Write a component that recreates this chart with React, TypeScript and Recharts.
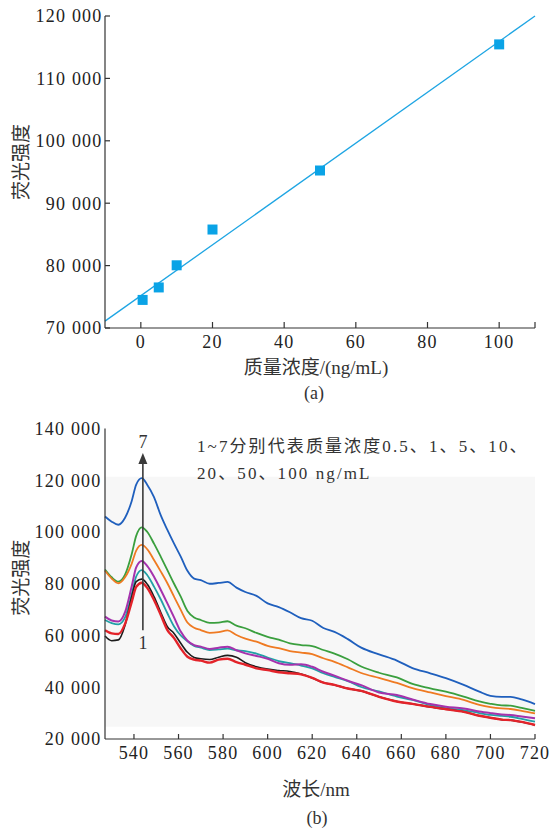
import React from 'react'
import {
  ComposedChart,
  LineChart,
  Line,
  Scatter,
  XAxis,
  YAxis,
  ReferenceArea,
  ReferenceLine,
} from 'recharts'

// (a) calibration points and fitted line
const concentrations = [0.5, 5, 10, 20, 50, 100]
const intensities = [74500, 76500, 80050, 85780, 95240, 115450]
const fitConc = [-10, 110]
const fitIntensity = [71100, 120000]
const aXTicks = [0, 20, 40, 60, 80, 100, 110]
const aYTicks = [70000, 80000, 90000, 100000, 110000, 120000]

// (b) emission spectra, 1..7 = 0.5, 1, 5, 10, 20, 50, 100 ng/mL
const wavelengths = [
  527, 530, 533, 536, 539, 541, 543.5, 546, 549, 552, 555, 558, 561, 564, 567, 570, 574, 578, 582, 586, 590, 595,
  600, 605, 610, 615, 620, 625, 630, 636, 642, 650, 658, 665, 673, 680, 688, 695, 700, 705, 709, 714, 720,
]
const s1 = [
  62000, 60800, 60600, 64500, 73000, 78800, 80400, 78300, 73700, 68000, 62100, 59000, 55000, 51800, 50700, 50300,
  49500, 50700, 51000, 49700, 48700, 47300, 46600, 45800, 45400, 45000, 43600, 41800, 40900, 39500, 38600, 36300,
  34500, 33600, 32400, 31500, 30500, 29000, 28200, 27500, 27300, 26600, 25400,
]
const s2 = [
  59800, 58000, 58300, 64000, 75000, 80800, 81800, 79800, 75000, 69000, 63400, 60800, 57000, 53500, 51500, 51000,
  50700, 51600, 52300, 51600, 49500, 47900, 47000, 46500, 46100, 45100, 43600, 41800, 40900, 39500, 38600, 36300,
  34500, 33600, 32400, 31500, 30500, 29000, 28200, 27500, 27300, 26600, 25400,
]
const s3 = [
  66000, 64800, 64300, 67000, 76000, 82800, 85300, 83300, 78900, 74000, 68600, 63500, 60000, 57800, 56000, 55300,
  54400, 54600, 54900, 54300, 54000, 53000, 51500, 50100, 49300, 48400, 47300, 45400, 44000, 42400, 40100, 38400,
  36400, 35100, 33100, 31900, 31200, 30000, 29300, 28900, 28600, 27800, 26700,
]
const s4 = [
  67300, 65800, 65400, 69000, 79000, 86300, 88800, 86800, 82700, 77700, 72400, 67000, 61500, 58000, 56300, 55700,
  54800, 55300, 55700, 54300, 53100, 52100, 51000, 49300, 48700, 48900, 47900, 46000, 44500, 42500, 40800, 38000,
  37000, 35300, 33500, 32500, 31800, 30600, 30000, 29500, 29300, 28700, 28000,
]
const s5 = [
  85000, 82000, 80200, 82500, 87800, 92800, 95000, 93300, 89200, 84800, 80200, 75000, 69900, 65000, 63000, 62100,
  61000, 61300, 62000, 60200, 58800, 57600, 56000, 55100, 54000, 53400, 52800, 51200, 49800, 47700, 45500, 43600,
  41700, 39700, 38000, 36600, 35100, 33200, 32300, 31800, 31600, 30900, 29900,
]
const s6 = [
  85500, 82500, 80800, 83500, 91500, 98500, 101800, 100000, 95500, 90500, 85300, 80000, 75000, 69500, 67000, 66000,
  64900, 65000, 65500, 63800, 62800, 61000, 59500, 58400, 57000, 56300, 55900, 54400, 53000, 50800, 48000, 45600,
  43800, 41300, 39600, 38300, 36400, 34500, 33600, 33000, 32900, 32000, 30900,
]
const s7 = [
  106000, 104000, 102800, 105500, 112000, 118300, 120800, 118200, 113500, 106500, 100800, 95500, 90500, 85000, 82000,
  81400, 80000, 80300, 80700, 78500, 76800, 75300, 72400, 71000, 69000, 66700, 65700, 62900, 61400, 58600, 55300,
  52700, 50300, 47400, 45400, 43500, 40900, 38300, 36700, 36300, 36300, 35300, 33500,
]
const bXTicks = [540, 560, 580, 600, 620, 640, 660, 680, 700, 720]
const bYTicks = [20000, 40000, 60000, 80000, 100000, 120000, 140000]
// the tick marks on the (b) axis do not sit under the printed labels
const bYMarks = [140000, 118800, 100800, 82700, 64900, 46900, 29300]
const shadeRange = [24750, 121400]
const arrowRange = [62000, 130500]
const arrowAt = 544

const points = concentrations.map((x, i) => ({ x, y: intensities[i] }))
const fitLine = fitConc.map((x, i) => ({ x, y: fitIntensity[i] }))
const spectra = wavelengths.map((nm, i) => ({
  nm,
  c1: s1[i],
  c2: s2[i],
  c3: s3[i],
  c4: s4[i],
  c5: s5[i],
  c6: s6[i],
  c7: s7[i],
}))

const curves = [
  { key: 'c7', color: '#1f5fbd', width: 1.8 },
  { key: 'c6', color: '#3a9f3e', width: 1.8 },
  { key: 'c5', color: '#ef7a22', width: 1.8 },
  { key: 'c3', color: '#22a0a6', width: 1.8 },
  { key: 'c4', color: '#a532ad', width: 2 },
  { key: 'c2', color: '#1c1c1c', width: 1.6 },
  { key: 'c1', color: '#e3232a', width: 2.4 },
]

const serif = "'Liberation Serif', 'Times New Roman', Times, 'DejaVu Serif', serif, 'Noto Sans CJK SC'"
const ink = '#222'
const tickStyle = { fill: ink, fontSize: 18, fontFamily: serif, letterSpacing: 1.2 }
const axisStroke = { stroke: '#333', strokeWidth: 1.2 }

const spaced = (v: number) => String(v).replace(/\B(?=(\d{3})+(?!\d))/g, ' ')

const square = (p: any) => <rect x={p.cx - 5} y={p.cy - 5} width={10} height={10} fill="#0aa3e6" />

const yTitle = (dy: number) => (p: any) => {
  const vb = p.viewBox
  const x = vb.x + 16
  const y = vb.y + vb.height / 2 + dy
  return (
    <text
      x={x}
      y={y}
      transform={`rotate(-90 ${x} ${y})`}
      textAnchor="middle"
      dominantBaseline="central"
      fill="#333"
      fontSize={19}
      fontFamily={serif}
    >
      荧光强度
    </text>
  )
}

const xTitle = (text: string, dy: number) => (p: any) => {
  const vb = p.viewBox
  return (
    <text
      x={vb.x + vb.width / 2 - 4}
      y={vb.y + vb.height + dy}
      textAnchor="middle"
      dominantBaseline="central"
      fill="#333"
      fontSize={19}
      fontFamily={serif}
    >
      {text}
    </text>
  )
}

const arrow = (p: any) => {
  const x = p.x1
  const top = Math.min(p.y1, p.y2)
  const bottom = Math.max(p.y1, p.y2)
  return (
    <g>
      <line x1={x} y1={top + 8} x2={x} y2={bottom} stroke="#3a3a3a" strokeWidth={1.6} />
      <polygon points={`${x},${top} ${x - 4.5},${top + 11} ${x + 4.5},${top + 11}`} fill="#3a3a3a" />
      <text x={x} y={top - 11.5} textAnchor="middle" dominantBaseline="central" fontSize={18} fontFamily={serif} fill="#333">
        7
      </text>
      <text x={x} y={bottom + 13} textAnchor="middle" dominantBaseline="central" fontSize={18} fontFamily={serif} fill="#333">
        1
      </text>
    </g>
  )
}

export default function App() {
  return (
    <div style={{ position: 'absolute', left: 0, top: 0, width: 549, height: 829, background: '#fff' }}>
      {/* (a) */}
      <div style={{ position: 'absolute', left: 0, top: 0 }}>
        <ComposedChart width={549} height={400} margin={{ top: 16, right: 14, bottom: 42, left: 5 }}>
          <XAxis
            type="number"
            dataKey="x"
            domain={[-10, 110]}
            ticks={aXTicks}
            interval={0}
            tickFormatter={(v: number) => (v === 110 ? '' : String(v))}
            height={30}
            tickSize={-6}
            tickMargin={13.5}
            tick={tickStyle}
            axisLine={axisStroke}
            tickLine={axisStroke}
            label={{ content: xTitle('质量浓度/(ng/mL)', 9) }}
          />
          <YAxis
            type="number"
            domain={[70000, 120000]}
            ticks={aYTicks}
            interval={0}
            tickFormatter={spaced}
            width={100}
            tickSize={-5}
            tickMargin={7.5}
            tick={tickStyle}
            axisLine={axisStroke}
            tickLine={axisStroke}
            label={{ content: yTitle(-10) }}
          />
          <Line
            data={fitLine}
            dataKey="y"
            type="linear"
            stroke="#1ea5e3"
            strokeWidth={1.3}
            dot={false}
            isAnimationActive={false}
          />
          <Scatter data={points} dataKey="y" shape={square} isAnimationActive={false} />
        </ComposedChart>
      </div>
      <div
        style={{
          position: 'absolute',
          left: 264,
          top: 382,
          width: 100,
          textAlign: 'center',
          fontFamily: serif,
          fontSize: 18,
          lineHeight: '22px',
          color: '#333',
        }}
      >
        (a)
      </div>

      {/* (b) */}
      <div style={{ position: 'absolute', left: 0, top: 410 }}>
        <LineChart width={549} height={419} data={spectra} margin={{ top: 18.5, right: 14, bottom: 60, left: 5 }}>
          <XAxis
            type="number"
            dataKey="nm"
            domain={[527, 720]}
            ticks={bXTicks}
            interval={0}
            height={30}
            tickSize={-5}
            tickMargin={12.5}
            tick={tickStyle}
            axisLine={axisStroke}
            tickLine={axisStroke}
            label={{ content: xTitle('波长/nm', 20) }}
          />
          <YAxis
            yAxisId="m"
            mirror
            type="number"
            domain={[20000, 140000]}
            allowDataOverflow
            ticks={bYMarks}
            interval={0}
            tick={false}
            axisLine={false}
            tickSize={5}
            tickLine={axisStroke}
          />
          <YAxis
            yAxisId="v"
            type="number"
            domain={[20000, 140000]}
            ticks={bYTicks}
            interval={0}
            tickFormatter={spaced}
            width={100}
            tickSize={0}
            tickMargin={3.5}
            tick={tickStyle}
            axisLine={axisStroke}
            tickLine={false}
            label={{ content: yTitle(-6) }}
          />
          <ReferenceArea
            yAxisId="v"
            x1={527}
            x2={720}
            y1={shadeRange[0]}
            y2={shadeRange[1]}
            fill="#f7f7f7"
            fillOpacity={1}
            stroke="none"
          />
          {curves.map((c) => (
            <Line
              key={c.key}
              yAxisId="v"
              dataKey={c.key}
              type="monotone"
              stroke={c.color}
              strokeWidth={c.width}
              dot={false}
              isAnimationActive={false}
            />
          ))}
          <ReferenceLine
            yAxisId="v"
            segment={[
              { x: arrowAt, y: arrowRange[0] },
              { x: arrowAt, y: arrowRange[1] },
            ]}
            shape={arrow}
          />
        </LineChart>
      </div>
      <div
        style={{
          position: 'absolute',
          left: 197,
          top: 433,
          fontFamily: serif,
          fontSize: 17,
          lineHeight: '27px',
          letterSpacing: 2.1,
          color: '#333',
          whiteSpace: 'nowrap',
        }}
      >
        1~7分别代表质量浓度0.5、1、5、10、
        <br />
        20、50、100 ng/mL
      </div>
      <div
        style={{
          position: 'absolute',
          left: 267,
          top: 807,
          width: 100,
          textAlign: 'center',
          fontFamily: serif,
          fontSize: 18,
          lineHeight: '22px',
          color: '#333',
        }}
      >
        (b)
      </div>
    </div>
  )
}
